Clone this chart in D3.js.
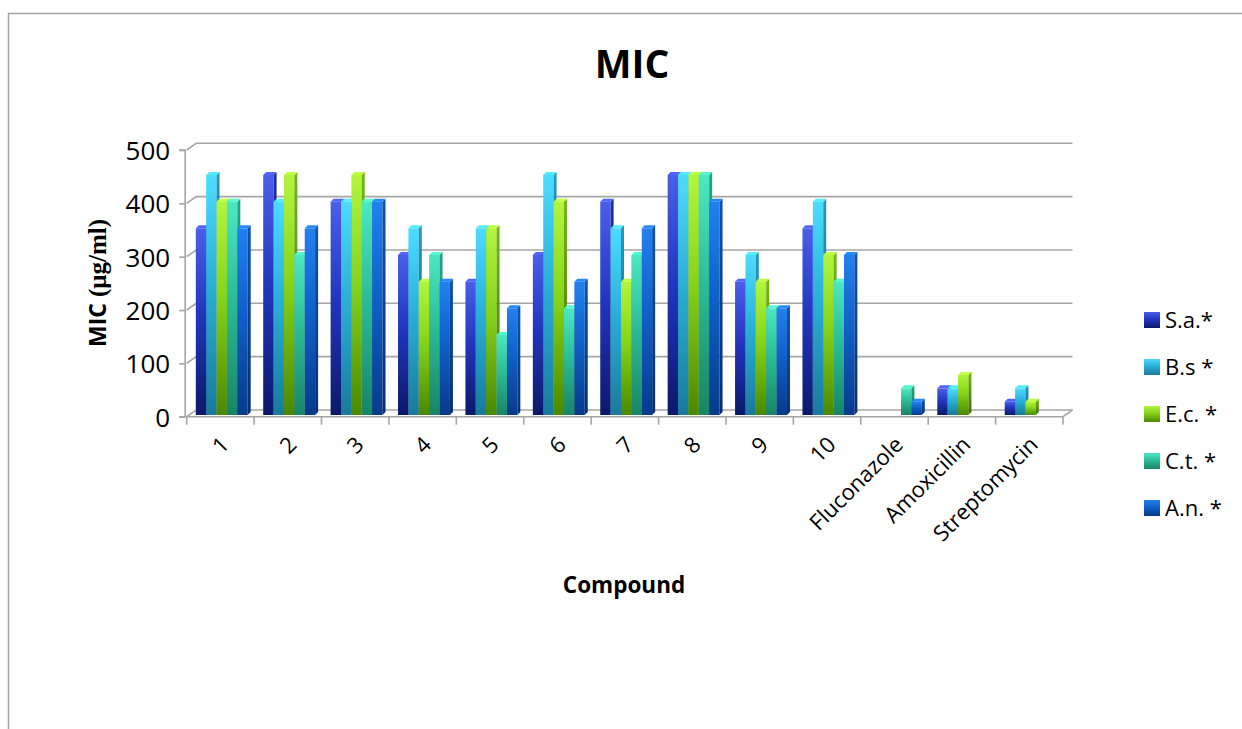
<!DOCTYPE html>
<html>
<head>
<meta charset="utf-8">
<script src="https://cdn.jsdelivr.net/npm/d3@7"></script>
<style>
  body { margin: 0; background: #fff; }
  text { font-family: "Open Sans", sans-serif; fill: #000; }
</style>
</head>
<body>
<svg id="chart" width="1242" height="729"></svg>
<script>
// Data
const categories = ["1", "2", "3", "4", "5", "6", "7", "8", "9", "10", "Fluconazole", "Amoxicillin", "Streptomycin"];
const seriesNames = ["S.a.*", "B.s *", "E.c. *", "C.t. *", "A.n. *"];
const saValues = [350, 450, 400, 300, 250, 300, 400, 450, 250, 350, 0, 50, 25];
const bsValues = [450, 400, 400, 350, 350, 450, 350, 450, 300, 400, 0, 50, 50];
const ecValues = [400, 450, 450, 250, 350, 400, 250, 450, 250, 300, 0, 75, 25];
const ctValues = [400, 300, 400, 300, 150, 200, 300, 450, 200, 250, 50, 0, 0];
const anValues = [350, 350, 400, 250, 200, 250, 350, 400, 200, 300, 25, 0, 0];
const yTicks = [0, 100, 200, 300, 400, 500];

// colours: [top, middle, bottom] of each bar face
const seriesColours = [
    ["#4b5ee9", "#2236c0", "#0b186b"],
    ["#4cdcff", "#2bb0d8", "#187a9c"],
    ["#b2f53e", "#86d41a", "#4c8800"],
    ["#4ce8c2", "#2dbc98", "#178566"],
    ["#2280ee", "#1060c8", "#073a8c"]
];

const svg = d3.select("#chart");
const seriesValues = [saValues, bsValues, ecValues, ctValues, anValues];

// depth of the 3d box
const depthX = 9.5, depthY = -6.7;
const barDepth = 3;

// Scales
const x = d3.scaleBand().domain(categories).range([186.7, 1063]).padding(0);
const y = d3.scaleLinear().domain([0, 500]).range([416.7, 150]);
const inner = d3.scaleBand().domain(seriesNames)
    .range([x.bandwidth() * 0.135, x.bandwidth() * 0.905]).padding(0);

// Gradients
const defs = svg.append("defs");
seriesColours.forEach(function(c, i) {
    var g = defs.append("linearGradient")
        .attr("id", "grad" + i)
        .attr("x1", 0).attr("y1", 0).attr("x2", 0).attr("y2", 1);
    g.append("stop").attr("offset", "0%").attr("stop-color", c[0]);
    g.append("stop").attr("offset", "45%").attr("stop-color", c[1]);
    g.append("stop").attr("offset", "100%").attr("stop-color", c[2]);
    var s = defs.append("linearGradient")
        .attr("id", "side" + i)
        .attr("x1", 0).attr("y1", 0).attr("x2", 0).attr("y2", 1);
    s.append("stop").attr("offset", "0%").attr("stop-color", d3.color(c[1]).darker(0.4));
    s.append("stop").attr("offset", "100%").attr("stop-color", d3.color(c[2]).darker(0.6));
});

// Outer frame
svg.append("path")
    .attr("d", "M8.5,729 L8.5,13.5 L1242,13.5")
    .attr("fill", "none")
    .attr("stroke", "#a3a3a3")
    .attr("stroke-width", 1.5);

// Title
svg.append("text")
    .attr("x", 632).attr("y", 78)
    .attr("text-anchor", "middle")
    .attr("font-size", "39px")
    .attr("font-weight", "bold")
    .text("MIC");

// Gridlines on back wall with the diagonal to the front axis
const x0 = x.range()[0], x1 = x.range()[1];
yTicks.forEach(function(v) {
    svg.append("path")
        .attr("d", "M" + x0 + "," + y(v) + " L" + (x0 + depthX) + "," + (y(v) + depthY) +
            " L" + (x1 + depthX) + "," + (y(v) + depthY))
        .attr("fill", "none")
        .attr("stroke", "#a6a6a6")
        .attr("stroke-width", 1.6);
});

// Floor front edge and right side
svg.append("path")
    .attr("d", "M" + x0 + "," + y(0) + " L" + x1 + "," + y(0) + " L" + (x1 + depthX) + "," + (y(0) + depthY))
    .attr("fill", "none")
    .attr("stroke", "#a6a6a6")
    .attr("stroke-width", 1.6);

// Bars
const barBottom = y(0) - 1.7;
categories.forEach(function(cat, ci) {
    seriesNames.forEach(function(name, si) {
        var v = seriesValues[si][ci];
        if (!v) return;
        var bx0 = x(cat) + inner(name);
        var bx1 = bx0 + inner.bandwidth();
        var top = y(v) - 1.7;
        var g = svg.append("g").attr("class", "bar");
        // front
        g.append("rect")
            .attr("x", bx0).attr("y", top)
            .attr("width", inner.bandwidth()).attr("height", barBottom - top)
            .attr("fill", "url(#grad" + si + ")");
        // side
        g.append("path")
            .attr("d", "M" + bx1 + "," + top + " L" + (bx1 + barDepth) + "," + (top - barDepth) +
                " L" + (bx1 + barDepth) + "," + (barBottom - barDepth) + " L" + bx1 + "," + barBottom + "Z")
            .attr("fill", "url(#side" + si + ")");
        // top
        g.append("path")
            .attr("d", "M" + bx0 + "," + top + " L" + (bx0 + barDepth) + "," + (top - barDepth) +
                " L" + (bx1 + barDepth) + "," + (top - barDepth) + " L" + bx1 + "," + top + "Z")
            .attr("fill", d3.color(seriesColours[si][0]).brighter(0.2));
    });
});

// Y axis
const yAxis = d3.axisLeft(y).tickValues(yTicks).tickSize(6).tickPadding(9);
const yg = svg.append("g")
    .attr("transform", "translate(" + (x0 - 1.5) + ",0)")
    .call(yAxis);
yg.select(".domain").attr("stroke", "#a6a6a6").attr("stroke-width", 1.6)
    .attr("d", "M-6," + y(500) + "H0V" + y(0) + "H-6");
yg.selectAll(".tick line").attr("stroke", "#a6a6a6").attr("stroke-width", 1.6);
yg.selectAll(".tick text")
    .attr("font-size", "26px")
    .attr("font-family", "'Open Sans', sans-serif")
    .attr("fill", "#000")
    .attr("dy", "0.36em");

// X axis ticks at category boundaries
const boundaries = categories.map(function(c) { return x(c); }).concat([x1]);
svg.selectAll(".xtick")
    .data(boundaries)
    .enter().append("line")
    .attr("class", "xtick")
    .attr("x1", function(d) { return d; })
    .attr("x2", function(d) { return d; })
    .attr("y1", y(0))
    .attr("y2", y(0) + 8)
    .attr("stroke", "#a6a6a6")
    .attr("stroke-width", 1.6);

// X labels rotated
svg.selectAll(".xlabel")
    .data(categories)
    .enter().append("text")
    .attr("class", "xlabel")
    .attr("text-anchor", "end")
    .attr("font-size", "22px")
    .attr("transform", function(d) {
        return "translate(" + (x(d) + x.bandwidth() / 2 + 10) + "," + 446 + ") rotate(-45)";
    })
    .text(function(d) { return d; });

// Axis titles
svg.append("text")
    .attr("x", 624).attr("y", 593)
    .attr("text-anchor", "middle")
    .attr("font-size", "22.5px")
    .attr("font-weight", "bold")
    .text("Compound");

const yt = svg.append("text")
    .attr("transform", "translate(106,283) rotate(-90)")
    .attr("text-anchor", "middle")
    .attr("font-size", "23px")
    .attr("font-weight", "bold");
yt.append("tspan").text("MIC ");
yt.append("tspan")
    .attr("font-family", "'Liberation Serif', serif")
    .attr("font-size", "25px")
    .text("(μg/ml)");

// Legend
const legend = svg.selectAll(".legend")
    .data(seriesNames)
    .enter().append("g")
    .attr("class", "legend")
    .attr("transform", function(d, i) { return "translate(1144," + (312 + i * 47) + ")"; });
legend.append("rect")
    .attr("width", 16).attr("height", 16)
    .attr("fill", function(d, i) { return "url(#grad" + i + ")"; });
legend.append("text")
    .attr("x", 21).attr("y", 16)
    .attr("font-size", "22px")
    .text(function(d) { return d; });
</script>
</body>
</html>
